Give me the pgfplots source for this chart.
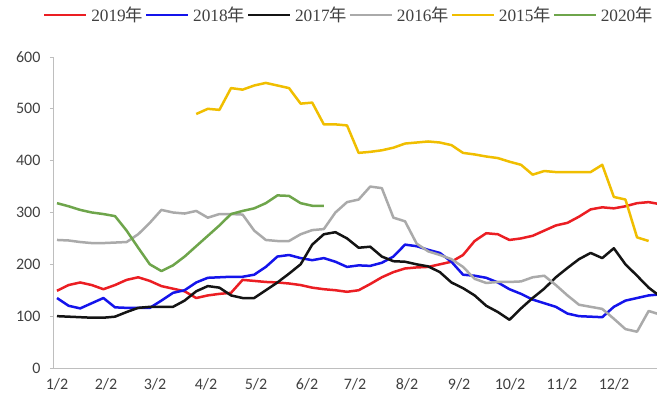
\documentclass[border=0pt]{standalone}
\usepackage{pgfplots}
\pgfplotsset{compat=1.18}
\usepackage{pgfplotstable}
\usepackage{fontspec}
\setmainfont{Carlito}
\newfontfamily\legfont{Liberation Serif}
\newfontfamily\cjk{Noto Sans CJK SC}
\definecolor{cred}{RGB}{235,30,35}
\definecolor{cblue}{RGB}{20,20,235}
\definecolor{cblack}{RGB}{20,20,20}
\definecolor{cgray}{RGB}{170,170,170}
\definecolor{cyel}{RGB}{240,190,0}
\definecolor{cgreen}{RGB}{110,165,75}
\definecolor{axgray}{RGB}{190,190,190}
\pgfplotstableread{
w red blue black gray yellow green
0 149 135 100 247 nan 318
1 160 120 99 246 nan 312
2 165 115 98 243 nan 305
3 160 125 97 241 nan 300
4 152 135 97 241 nan 297
5 160 117 99 242 nan 293
6 170 116 108 243 nan 265
7 175 116 116 258 nan 232
8 168 116 118 280 nan 200
9 158 130 118 305 nan 187
10 153 145 118 300 nan 198
11 148 150 130 298 nan 215
12 135 165 148 303 490 235
13 140 174 158 290 500 255
14 143 175 155 297 498 275
15 145 176 140 297 540 297
16 170 176 135 296 537 303
17 168 180 135 265 545 308
18 166 195 150 247 550 318
19 165 215 165 245 545 333
20 163 218 182 245 540 332
21 160 212 200 258 510 318
22 155 208 238 266 512 313
23 152 212 258 268 470 313
24 150 205 262 300 470 nan
25 147 195 250 320 468 nan
26 150 198 232 325 415 nan
27 162 197 234 350 417 nan
28 175 203 215 347 420 nan
29 185 215 206 290 425 nan
30 192 238 205 283 433 nan
31 194 235 200 240 435 nan
32 195 228 196 225 437 nan
33 200 222 185 218 435 nan
34 205 205 165 210 430 nan
35 218 180 154 195 415 nan
36 245 178 140 172 412 nan
37 260 174 120 164 408 nan
38 258 165 108 166 405 nan
39 247 152 93 166 398 nan
40 250 143 115 167 392 nan
41 255 132 135 175 373 nan
42 265 125 153 178 380 nan
43 275 118 175 160 378 nan
44 280 105 193 140 378 nan
45 292 100 210 122 378 nan
46 306 99 222 118 378 nan
47 310 98 212 114 392 nan
48 308 118 231 95 330 nan
49 312 130 200 75 325 nan
50 318 135 178 70 252 nan
51 320 140 155 110 245 nan
52 316 142 138 103 nan nan
}\data
\begin{document}
\begin{tikzpicture}
\begin{axis}[
  name=ax,
  scale only axis,
  width=604pt, height=311pt,
  xmin=-0.345, xmax=51.72,
  ymin=0, ymax=600,
  ytick={0,100,...,600},
  xtick={0,4.22,8.45,12.84,17.16,21.55,25.69,30.17,34.66,39.05,43.53,48.02},
  xticklabels={1/2,2/2,3/2,4/2,5/2,6/2,7/2,8/2,9/2,10/2,11/2,12/2},
  axis x line*=bottom, axis y line*=left,
  axis line style={axgray, line width=0.8pt},
  every outer x axis line/.append style={-},
  every outer y axis line/.append style={-},
  x axis line style={-}, y axis line style={-},
  xtick style={draw=none},
  ytick style={axgray, line width=0.8pt},
  tick align=outside, major tick length=3pt,
  /pgf/number format/assume math mode=true,
  tick label style={font=\fontsize{16}{18}\selectfont, text=black!75},
  yticklabel style={xshift=-6pt},
  xticklabel style={yshift=-4pt},
  unbounded coords=jump,
  legend columns=6,
  legend style={draw=none, fill=none, at={(0.49,1.135)}, anchor=center,
    font=\fontsize{17.3}{19}\selectfont\legfont, text=black!75,
    /tikz/every odd column/.append style={column sep=2pt},
    /tikz/every even column/.append style={column sep=0pt},
    inner sep=0pt},
  legend image code/.code={\draw[#1, line width=2pt] (0pt,0pt) -- (42pt,0pt);},
  every axis plot/.append style={line width=2.5pt, line join=round},
]
\addplot[cred] table[x=w,y=red]{\data};
\addlegendentry{2019{\cjk 年}}
\addplot[cblue] table[x=w,y=blue]{\data};
\addlegendentry{2018{\cjk 年}}
\addplot[cblack] table[x=w,y=black]{\data};
\addlegendentry{2017{\cjk 年}}
\addplot[cgray] table[x=w,y=gray]{\data};
\addlegendentry{2016{\cjk 年}}
\addplot[cyel] table[x=w,y=yellow]{\data};
\addlegendentry{2015{\cjk 年}}
\addplot[cgreen] table[x=w,y=green]{\data};
\addlegendentry{2020{\cjk 年}}
\end{axis}
\pgfresetboundingbox
\path ([xshift=-53pt,yshift=-37pt]ax.south west) rectangle ([yshift=57pt]ax.north east);
\end{tikzpicture}
\end{document}
